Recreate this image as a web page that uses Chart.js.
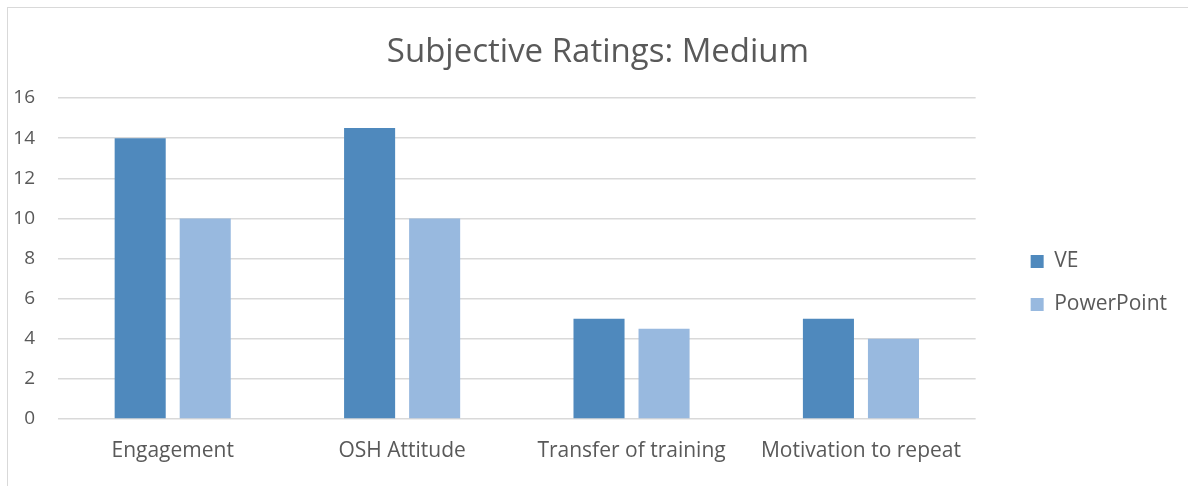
<!DOCTYPE html>
<html>
<head>
<meta charset="utf-8">
<script src="https://cdn.jsdelivr.net/npm/chart.js@4.4.0/dist/chart.umd.min.js"></script>
<style>
  html, body { margin: 0; padding: 0; background: #ffffff; }
  #wrap { position: relative; width: 1188px; height: 486px; overflow: hidden; }
  #frame { position: absolute; left: 7px; top: 7px; width: 1200px; height: 500px;
           border-top: 1px solid #d9d9d9; border-left: 1px solid #d9d9d9; }
  #chart { position: absolute; left: 0; top: 0; }
</style>
</head>
<body>
<div id="wrap">
  <div id="frame"></div>
  <canvas id="chart" width="1188" height="486"></canvas>
</div>
<script>
// Chart content
const chartTitle = 'Subjective Ratings: Medium';
const categories = ['Engagement', 'OSH Attitude', 'Transfer of training', 'Motivation to repeat'];
const seriesNames = ['VE', 'PowerPoint'];
const veValues = [14, 14.5, 5, 5];
const powerPointValues = [10, 10, 4.5, 4];
const yTicks = [0, 2, 4, 6, 8, 10, 12, 14, 16];

const FONT = "'Open Sans', 'Liberation Sans', sans-serif";
const TEXT = '#595959';
const GRID = '#d9d9d9';

// Nudges the legend into the right-hand margin and centres the title on the full frame.
const blockNudge = {
  id: 'blockNudge',
  afterLayout(chart) {
    const lg = chart.legend;
    if (lg) {
      const dx = 33, dy = 40;
      lg.left += dx; lg.right += dx;
      lg.top += dy; lg.bottom += dy;
    }
    const tb = chart.titleBlock;
    if (tb) {
      const tx = 26;
      tb.left += tx; tb.right += tx;
    }
  }
};

new Chart(document.getElementById('chart'), {
  type: 'bar',
  data: {
    labels: categories,
    datasets: [
      { label: seriesNames[0], data: veValues, backgroundColor: '#4f89bd',
        categoryPercentage: 0.567, barPercentage: 0.785 },
      { label: seriesNames[1], data: powerPointValues, backgroundColor: '#98b9df',
        categoryPercentage: 0.567, barPercentage: 0.785 }
    ]
  },
  options: {
    responsive: false,
    animation: false,
    devicePixelRatio: 1,
    layout: { padding: { left: 0, right: 44, top: 0, bottom: 0 } },
    plugins: {
      title: {
        display: true,
        text: chartTitle,
        color: TEXT,
        font: { family: FONT, size: 33, weight: 'normal' },
        padding: { top: 33, bottom: 25.4 }
      },
      legend: {
        position: 'right',
        labels: {
          color: TEXT,
          font: { family: FONT, size: 21 },
          boxWidth: 13,
          boxHeight: 13,
          padding: 22
        }
      },
      tooltip: { enabled: false }
    },
    scales: {
      x: {
        grid: { display: false, drawTicks: false },
        border: { display: false },
        ticks: { color: TEXT, font: { family: FONT, size: 21 }, padding: 19, maxRotation: 0 },
        afterFit(scale) { scale.height = 67; }
      },
      y: {
        min: 0,
        max: 16,
        grid: { color: GRID, lineWidth: 1.5, drawTicks: false },
        border: { display: false },
        afterBuildTicks(scale) { scale.ticks = yTicks.map(v => ({ value: v })); },
        ticks: { color: TEXT, font: { family: FONT, size: 19 }, padding: 23 },
        afterFit(scale) { scale.width = 58; }
      }
    }
  },
  plugins: [blockNudge]
});
</script>
</body>
</html>
